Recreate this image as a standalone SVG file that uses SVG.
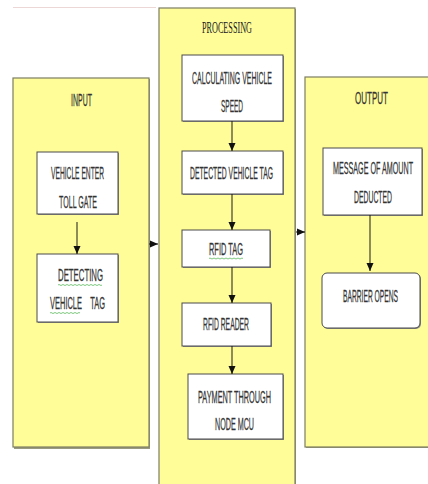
<svg xmlns="http://www.w3.org/2000/svg" width="428" height="484" viewBox="0 0 428 484">
<style>
.panel{fill:#FFFD98;stroke:#7d7d62;stroke-width:1.2}
.pshadow{fill:#9a9a80}
.box{fill:#ffffff;stroke:#4a4a4a;stroke-width:1}
.bshadow{fill:#8c8c8c}
.t{font-family:"Liberation Sans",Arial,sans-serif;font-size:9.5px;fill:#333333;stroke:#333333;stroke-width:0.15;text-anchor:middle}
.ts{font-family:"Liberation Serif","Times New Roman",serif;font-size:11px;fill:#222222;text-anchor:middle}
.sm{font-size:7.5px;stroke-width:0.12}
.conn{stroke:#1a1a1a;stroke-width:1;fill:none;marker-end:url(#ah)}
.sq{stroke:#5cb85c;stroke-width:0.8;fill:none}
</style>
<defs>
<marker id="ah" viewBox="0 0 8 8" refX="8" refY="4" markerWidth="8" markerHeight="8" markerUnits="userSpaceOnUse" orient="auto">
<path d="M0,0.5 L8,4 L0,7.5 Z" fill="#111"/>
</marker>
</defs>
<rect width="428" height="484" fill="#ffffff"/>
<line x1="13" y1="7.5" x2="156" y2="7.5" stroke="#ecd6d6" stroke-width="1"/>

<g id="panel-input">
<rect class="pshadow" x="14" y="79" width="136" height="370"/>
<rect class="panel" x="13" y="78" width="136" height="369"/>
<text class="t" transform="translate(81.5,106) scale(1,1.72)" textLength="21" lengthAdjust="spacingAndGlyphs">INPUT</text>
</g>
<g id="panel-processing">
<rect class="pshadow" x="160" y="9" width="136" height="480"/>
<rect class="panel" x="159" y="8" width="136" height="480"/>
<text class="ts" transform="translate(227,33) scale(1,1.5)" textLength="50" lengthAdjust="spacingAndGlyphs">PROCESSING</text>
</g>
<g id="panel-output">
<rect class="pshadow" x="306" y="78" width="124" height="370"/>
<rect class="panel" x="305" y="77" width="124" height="370"/>
<text class="t" transform="translate(371.5,104) scale(1,1.72)" textLength="33" lengthAdjust="spacingAndGlyphs">OUTPUT</text>
</g>

<g id="n-vehicle-enter">
<rect class="bshadow" x="38" y="153" width="81" height="62"/>
<rect class="box" x="37" y="152" width="81" height="62"/>
<text class="t" transform="translate(77.5,179) scale(1,1.72)" textLength="53" lengthAdjust="spacingAndGlyphs">VEHICLE ENTER</text>
<text class="t" transform="translate(78,208) scale(1,1.72)" textLength="38" lengthAdjust="spacingAndGlyphs">TOLL GATE</text>
</g>
<g id="n-detecting">
<rect class="bshadow" x="38" y="255" width="81" height="68"/>
<rect class="box" x="37" y="254" width="81" height="68"/>
<text class="t" transform="translate(80.5,281) scale(1,1.72)" textLength="45" lengthAdjust="spacingAndGlyphs">DETECTING</text>
<text class="t" transform="translate(77.5,309) scale(1,1.72)" textLength="55" lengthAdjust="spacingAndGlyphs" xml:space="preserve">VEHICLE    TAG</text>
<path class="sq" d="M58,285 q1,-1 2,0 t2,0 t2,0 t2,0 t2,0 t2,0 t2,0 t2,0 t2,0 t2,0 t2,0 t2,0 t2,0 t2,0 t2,0 t2,0 t2,0 t2,0 t2,0 t2,0 t2,0 t2,0"/>
<path class="sq" d="M50,313 q1,-1 2,0 t2,0 t2,0 t2,0 t2,0 t2,0 t2,0 t2,0 t2,0 t2,0 t2,0 t2,0 t2,0 t2,0 t2,0"/>
</g>

<g id="n-calc-speed">
<rect class="bshadow" x="183" y="56" width="101" height="66"/>
<rect class="box" x="182" y="55" width="101" height="66"/>
<text class="t" transform="translate(232,84) scale(1,1.72)" textLength="80" lengthAdjust="spacingAndGlyphs">CALCULATING VEHICLE</text>
<text class="t" transform="translate(232,112) scale(1,1.72)" textLength="22" lengthAdjust="spacingAndGlyphs">SPEED</text>
</g>
<g id="n-detected-tag">
<rect class="bshadow" x="183" y="152" width="101" height="43"/>
<rect class="box" x="182" y="151" width="101" height="43"/>
<text class="t" transform="translate(231.5,179) scale(1,1.72)" textLength="83" lengthAdjust="spacingAndGlyphs">DETECTED VEHICLE TAG</text>
</g>
<g id="n-rfid-tag">
<rect class="bshadow" x="183" y="231" width="88" height="37"/>
<rect class="box" x="182" y="230" width="88" height="37"/>
<text class="t" transform="translate(226,255) scale(1,1.72)" textLength="34" lengthAdjust="spacingAndGlyphs">RFID TAG</text>
<path class="sq" d="M209,258.5 q1,-1 2,0 t2,0 t2,0 t2,0 t2,0 t2,0 t2,0 t2,0 t2,0 t2,0 t2,0 t2,0 t2,0 t2,0 t2,0 t2,0 t2,0"/>
</g>
<g id="n-rfid-reader">
<rect class="bshadow" x="183" y="304" width="89" height="43"/>
<rect class="box" x="182" y="303" width="89" height="43"/>
<text class="t" transform="translate(226,330) scale(1,1.72)" textLength="46" lengthAdjust="spacingAndGlyphs">RFID READER</text>
</g>
<g id="n-payment">
<rect class="bshadow" x="189" y="375" width="95" height="65"/>
<rect class="box" x="188" y="374" width="95" height="65"/>
<text class="t" transform="translate(234.5,403) scale(1,1.72)" textLength="73" lengthAdjust="spacingAndGlyphs">PAYMENT THROUGH</text>
<text class="t" transform="translate(234.5,430) scale(1,1.72)" textLength="39" lengthAdjust="spacingAndGlyphs">NODE MCU</text>
</g>

<g id="n-message">
<rect class="bshadow" x="324" y="149" width="99" height="67"/>
<rect class="box" x="323" y="148" width="99" height="67"/>
<text class="t sm" transform="translate(373,174) scale(1,2.18)" textLength="80" lengthAdjust="spacingAndGlyphs">MESSAGE OF AMOUNT</text>
<text class="t" transform="translate(373,203) scale(1,1.72)" textLength="38" lengthAdjust="spacingAndGlyphs">DEDUCTED</text>
</g>
<g id="n-barrier">
<rect class="bshadow" x="323" y="274" width="98" height="55" rx="5"/>
<rect class="box" x="322" y="273" width="98" height="55" rx="5"/>
<text class="t" transform="translate(370.5,302) scale(1,1.72)" textLength="55" lengthAdjust="spacingAndGlyphs">BARRIER OPENS</text>
</g>

<g id="connectors">
<line class="conn" x1="77" y1="222" x2="77" y2="254"/>
<line class="conn" x1="232" y1="121" x2="232" y2="151"/>
<line class="conn" x1="232" y1="194" x2="232" y2="230"/>
<line class="conn" x1="232" y1="267" x2="232" y2="303"/>
<line class="conn" x1="232" y1="346" x2="232" y2="374"/>
<line class="conn" x1="370" y1="215" x2="370" y2="271"/>
<line class="conn" x1="149" y1="244" x2="158" y2="244"/>
<line class="conn" x1="296" y1="232" x2="305" y2="232"/>
</g>
</svg>
